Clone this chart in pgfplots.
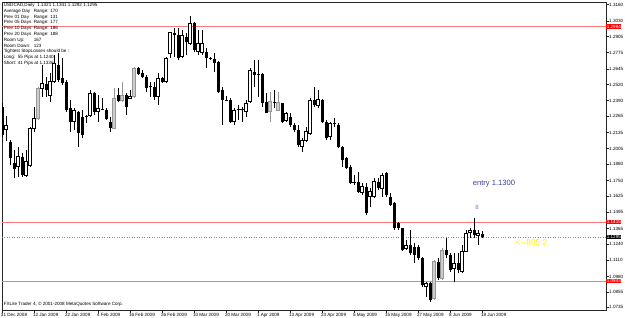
\documentclass[border=0pt]{standalone}
\usepackage{pgfplots}
\pgfplotsset{compat=1.18}
\usepackage{pgfplotstable}
\usepackage{fontspec}
\setmainfont{Liberation Sans}
\definecolor{redline}{RGB}{250,120,120}
\definecolor{entryblue}{RGB}{60,60,160}
\definecolor{eightc}{RGB}{130,120,200}
\definecolor{candlegray}{RGB}{150,150,150}
\definecolor{candlefill}{RGB}{205,205,205}
\newcommand\tf{\fontsize{4.6bp}{5.8bp}\selectfont}
\pgfplotstableread{
i O H L C G
0 1.2342 1.2369 1.2101 1.2115 0
1 1.2160 1.2267 1.2069 1.2195 0
2 1.2061 1.2075 1.1874 1.1928 0
3 1.1888 1.1995 1.1767 1.1842 0
4 1.1861 1.2021 1.1781 1.1941 0
5 1.1941 1.1968 1.1781 1.1794 0
6 1.1794 1.1995 1.1781 1.1901 0
7 1.1874 1.2182 1.1861 1.2168 0
8 1.2168 1.2342 1.2142 1.2249 0
9 1.2249 1.2502 1.2235 1.2489 1
10 1.2489 1.2676 1.2422 1.2529 0
11 1.2524 1.2583 1.2422 1.2476 0
12 1.2436 1.2609 1.2382 1.2543 0
13 1.2543 1.2757 1.2529 1.2690 0
14 1.2676 1.2770 1.2543 1.2556 0
15 1.2569 1.2730 1.2516 1.2529 0
16 1.2543 1.2556 1.2302 1.2315 0
17 1.2329 1.2396 1.2142 1.2222 0
18 1.2222 1.2329 1.2155 1.2315 0
19 1.2302 1.2310 1.2021 1.2128 0
20 1.2262 1.2315 1.2088 1.2115 0
21 1.2267 1.2275 1.2208 1.2257 0
22 1.2275 1.2476 1.2262 1.2449 0
23 1.2449 1.2462 1.2275 1.2302 0
24 1.2302 1.2436 1.2222 1.2329 0
25 1.2323 1.2409 1.2315 1.2320 0
26 1.2315 1.2329 1.2235 1.2240 0
27 1.2222 1.2262 1.2142 1.2168 0
28 1.2168 1.2489 1.2160 1.2409 1
29 1.2436 1.2489 1.2382 1.2390 0
30 1.2390 1.2543 1.2382 1.2436 1
31 1.2436 1.2449 1.2275 1.2342 0
32 1.2409 1.2476 1.2401 1.2428 0
33 1.2422 1.2663 1.2409 1.2650 1
34 1.2650 1.2663 1.2596 1.2604 0
35 1.2615 1.2636 1.2569 1.2583 0
36 1.2583 1.2596 1.2462 1.2489 0
37 1.2508 1.2543 1.2422 1.2497 0
38 1.2497 1.2543 1.2396 1.2422 0
39 1.2422 1.2609 1.2355 1.2569 0
40 1.2569 1.2583 1.2529 1.2543 0
41 1.2543 1.2743 1.2529 1.2730 0
42 1.2770 1.2944 1.2730 1.2936 0
43 1.2936 1.2970 1.2743 1.2917 0
44 1.2917 1.2970 1.2716 1.2730 0
45 1.2743 1.2957 1.2730 1.2917 0
46 1.2904 1.2930 1.2757 1.2863 0
47 1.2850 1.3069 1.2837 1.3011 0
48 1.3011 1.3024 1.2783 1.2797 0
49 1.2783 1.2957 1.2757 1.2850 0
50 1.2775 1.2957 1.2757 1.2850 0
51 1.2783 1.2810 1.2650 1.2730 0
52 1.2730 1.2743 1.2716 1.2722 0
53 1.2722 1.2770 1.2623 1.2690 0
54 1.2703 1.2710 1.2449 1.2462 0
55 1.2476 1.2502 1.2195 1.2396 0
56 1.2396 1.2428 1.2390 1.2394 0
57 1.2396 1.2409 1.2208 1.2222 0
58 1.2222 1.2329 1.2195 1.2315 0
59 1.2323 1.2355 1.2235 1.2318 0
60 1.2318 1.2342 1.2222 1.2323 0
61 1.2302 1.2396 1.2262 1.2369 0
62 1.2382 1.2650 1.2369 1.2636 0
63 1.2623 1.2716 1.2502 1.2596 0
64 1.2604 1.2716 1.2422 1.2596 0
65 1.2604 1.2609 1.2342 1.2369 0
66 1.2382 1.2449 1.2289 1.2294 0
67 1.2302 1.2462 1.2222 1.2382 1
68 1.2379 1.2476 1.2329 1.2371 0
69 1.2315 1.2462 1.2310 1.2374 1
70 1.2369 1.2375 1.2208 1.2222 0
71 1.2235 1.2302 1.2222 1.2289 0
72 1.2262 1.2294 1.2182 1.2195 0
73 1.2195 1.2208 1.2142 1.2155 0
74 1.2155 1.2195 1.2021 1.2035 0
75 1.2021 1.2088 1.1981 1.2075 0
76 1.2075 1.2182 1.2061 1.2142 0
77 1.2128 1.2409 1.2115 1.2396 0
78 1.2396 1.2502 1.2342 1.2355 0
79 1.2355 1.2476 1.2329 1.2401 0
80 1.2396 1.2401 1.2208 1.2222 0
81 1.2222 1.2235 1.2075 1.2088 0
82 1.2101 1.2222 1.2075 1.2208 0
83 1.2213 1.2249 1.2182 1.2203 0
84 1.2195 1.2208 1.2008 1.2021 0
85 1.2021 1.2026 1.1861 1.1914 0
86 1.1928 1.1941 1.1839 1.1847 0
87 1.1861 1.1874 1.1722 1.1727 0
88 1.1732 1.1794 1.1714 1.1737 0
89 1.1740 1.1821 1.1647 1.1660 0
90 1.1652 1.1730 1.1633 1.1700 0
91 1.1700 1.1730 1.1473 1.1487 0
92 1.1620 1.1687 1.1540 1.1660 0
93 1.1620 1.1767 1.1607 1.1740 0
94 1.1740 1.1767 1.1674 1.1687 0
95 1.1687 1.1808 1.1620 1.1794 0
96 1.1808 1.1820 1.1620 1.1633 0
97 1.1620 1.1647 1.1548 1.1553 0
98 1.1567 1.1575 1.1353 1.1366 0
99 1.1406 1.1419 1.1353 1.1366 0
100 1.1366 1.1372 1.1188 1.1192 0
101 1.1206 1.1272 1.1192 1.1232 0
102 1.1232 1.1353 1.1152 1.1166 0
103 1.1219 1.1246 1.1086 1.1152 0
104 1.1219 1.1232 1.1112 1.1126 0
105 1.1126 1.1138 1.0898 1.0911 0
106 1.0898 1.0938 1.0818 1.0925 0
107 1.0925 1.0938 1.0778 1.0791 0
108 1.0805 1.1112 1.0791 1.1098 1
109 1.1098 1.1126 1.0952 1.0965 0
110 1.0965 1.1206 1.0952 1.1192 1
111 1.1192 1.1286 1.1126 1.1152 0
112 1.1152 1.1166 1.1018 1.1032 0
113 1.1045 1.1166 1.0938 1.1086 0
114 1.1086 1.1166 1.1005 1.1032 0
115 1.1018 1.1232 1.1005 1.1179 0
116 1.1179 1.1353 1.1175 1.1326 0
117 1.1331 1.1366 1.1286 1.1353 0
118 1.1353 1.1446 1.1286 1.1313 0
119 1.1313 1.1353 1.1232 1.1326 0
120 1.1321 1.1341 1.1292 1.1295 0
}\candles
% up-candle indicator (1 if C>=O, else 0)
\newcommand\up{((1+(\thisrow{C}-\thisrow{O}+0.00001)/abs(\thisrow{C}-\thisrow{O}+0.00001))/2)}
\begin{document}
\begin{tikzpicture}
\begin{axis}[
  at={(0,0)}, anchor=south west,
  scale only axis, width=604bp, height=308bp,
  xmin=0, xmax=151, ymin=1.07109, ymax=1.31817,
  axis line style={black!85, line width=0.7bp},
  clip mode=individual,
  tick align=outside, major tick length=2.6bp,
  tick style={black!85, line width=0.6bp},
  xtick pos=left, ytick pos=right, yticklabel pos=right,
  xtick={0,8,...,120},
  xticklabels={31 Dec 2008,12 Jan 2009,22 Jan 2009,4 Feb 2009,16 Feb 2009,26 Feb 2009,10 Mar 2009,20 Mar 2009,1 Apr 2009,13 Apr 2009,23 Apr 2009,5 May 2009,15 May 2009,27 May 2009,8 Jun 2009,18 Jun 2009},
  xticklabel style={font=\tf, anchor=north west, inner sep=0pt, xshift=-1.2bp, yshift=-0.6bp},
  ytick={1.3160,1.3030,1.2905,1.2775,1.2645,1.2520,1.2390,1.2265,1.2135,1.2005,1.1880,1.1750,1.1625,1.1495,1.1365,1.1240,1.1110,1.0980,1.0855,1.0735},
  yticklabels={1.3160,1.3030,1.2905,1.2775,1.2645,1.2520,1.2390,1.2265,1.2135,1.2005,1.1880,1.1750,1.1625,1.1495,1.1365,1.1240,1.1110,1.0980,1.0855,1.0735},
  yticklabel style={font=\tf, anchor=west, inner sep=0.4bp},
]
% horizontal levels
\addplot[redline, line width=0.8bp] coordinates {(0,1.2984) (151,1.2984)};
\addplot[redline, line width=0.8bp] coordinates {(0,1.1415) (151,1.1415)};
\addplot[redline, line width=0.8bp] coordinates {(0,1.0943) (151,1.0943)};
\addplot[black!45, line width=0.5bp, dotted] coordinates {(0,1.1295) (151,1.1295)};
% wicks
\addplot[black, line width=0.7bp, quiver={u=0, v={(\thisrow{H}-\thisrow{L})*(1-\thisrow{G})}}] table[x=i, y=L]{\candles};
\addplot[candlegray, line width=0.7bp, quiver={u=0, v={(\thisrow{H}-\thisrow{L})*\thisrow{G}}}] table[x=i, y=L]{\candles};
% black bodies
\addplot[black, line width=3bp, quiver={u=0, v={max(\thisrow{O}-\thisrow{C},0)}}] table[x=i, y=C]{\candles};
% white (and grey) body fills
\addplot[white, line width=2.6bp, quiver={u=0, v={max(\thisrow{C}-\thisrow{O},0)*(1-\thisrow{G})}}] table[x=i, y=O]{\candles};
\addplot[candlefill, line width=2.6bp, quiver={u=0, v={max(\thisrow{C}-\thisrow{O},0)*\thisrow{G}}}] table[x=i, y=O]{\candles};
% white body outlines: sides
\addplot[black, line width=0.7bp, quiver={u=0, v={max(\thisrow{C}-\thisrow{O},0)*(1-\thisrow{G})}}] table[x expr=\thisrow{i}-0.325, y=O]{\candles};
\addplot[black, line width=0.7bp, quiver={u=0, v={max(\thisrow{C}-\thisrow{O},0)*(1-\thisrow{G})}}] table[x expr=\thisrow{i}+0.325, y=O]{\candles};
% white body outlines: caps
\addplot[black, line width=0.7bp, quiver={u={0.825*\up*(1-\thisrow{G})}, v=0}] table[x expr=\thisrow{i}-0.4125, y=O]{\candles};
\addplot[black, line width=0.7bp, quiver={u={0.825*\up*(1-\thisrow{G})}, v=0}] table[x expr=\thisrow{i}-0.4125, y=C]{\candles};
% grey body outlines
\addplot[candlegray, line width=0.7bp, quiver={u=0, v={max(\thisrow{C}-\thisrow{O},0)*\thisrow{G}}}] table[x expr=\thisrow{i}-0.325, y=O]{\candles};
\addplot[candlegray, line width=0.7bp, quiver={u=0, v={max(\thisrow{C}-\thisrow{O},0)*\thisrow{G}}}] table[x expr=\thisrow{i}+0.325, y=O]{\candles};
\addplot[candlegray, line width=0.7bp, quiver={u={0.825*\thisrow{G}}, v=0}] table[x expr=\thisrow{i}-0.4125, y=O]{\candles};
\addplot[candlegray, line width=0.7bp, quiver={u={0.825*\thisrow{G}}, v=0}] table[x expr=\thisrow{i}-0.4125, y=C]{\candles};
% price boxes
\node[anchor=west, fill=red, text=white, font=\tf, inner sep=0.6bp] at (axis cs:151,1.2984) {1.2984};
\node[anchor=west, fill=red, text=white, font=\tf, inner sep=0.6bp] at (axis cs:151,1.1415) {1.1415};
\node[anchor=west, fill=black, text=white, font=\tf, inner sep=0.6bp] at (axis cs:151,1.1295) {1.1295};
\node[anchor=west, fill=red, text=white, font=\tf, inner sep=0.6bp] at (axis cs:151,1.0943) {1.0943};
% annotations
\node[text=entryblue, font=\fontsize{7.6bp}{8bp}\selectfont, inner sep=0pt] at (axis cs:123,1.1722) {entry 1.1300};
\node[text=eightc, font=\fontsize{6bp}{6bp}\selectfont, inner sep=0pt] at (axis cs:118.75,1.1537) {8};
\node[text=yellow, font=\fontsize{8.4bp}{9bp}\selectfont, inner sep=0pt] at (axis cs:132.4,1.1254) {<-{}-805:2};
% info block
\node[anchor=north west, align=left, inner sep=0pt, font=\tf] at (rel axis cs:0,1) [xshift=1.6bp, yshift=-0.9bp] {%
USDCAD,Daily\ \ 1.1321 1.1341 1.1292 1.1295\\
\makebox[30bp][l]{Average Day}Range: 170\\
\makebox[30bp][l]{Prev 01 Day}Range: 131\\
\makebox[30bp][l]{Prev 05 Days}Range: 177\\
\makebox[30bp][l]{Prev 10 Days}Range: 186\\
\makebox[30bp][l]{Prev 20 Days}Range: 188\\
\makebox[30bp][l]{Room Up:}167\\
\makebox[30bp][l]{Room Down:}123\\
Tightest StopLosses should be :\\
Long:\ \ 55 Pips at 1.1240\\
Short: 41 Pips at 1.1336};
\node[anchor=south west, inner sep=0pt, font=\tf] at (rel axis cs:0,0) [xshift=1.6bp, yshift=3.2bp] {FXLite Trader 4, © 2001-2008 MetaQuotes Software Corp.};
\end{axis}
\pgfresetboundingbox
\path[use as bounding box] (-2bp,-8bp) rectangle (623bp,310bp);
\end{tikzpicture}
\end{document}
